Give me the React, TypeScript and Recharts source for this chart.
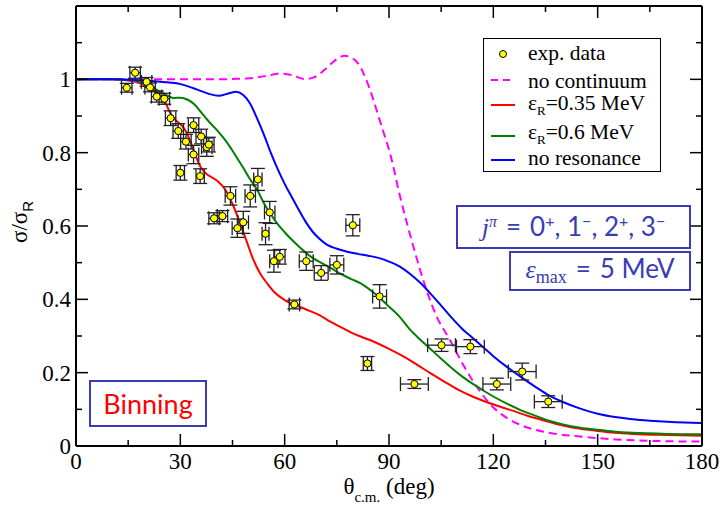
import React from "react";
import { ComposedChart, ErrorBar, Legend, Line, Scatter, XAxis, YAxis } from "recharts";

// axis ticks (minor + major)
const X_TICKS = [0, 15, 30, 45, 60, 75, 90, 105, 120, 135, 150, 165, 180];
const Y_TICKS = [0, 0.1, 0.2, 0.3, 0.4, 0.5, 0.6, 0.7, 0.8, 0.9, 1.0, 1.1];

// experimental points: theta (deg), sigma/sigma_R, errors
const EXP_THETA = [14.6, 17.0, 20.3, 21.3, 23.2, 25.4, 27.2, 29.4, 30.0, 31.6, 33.8, 33.8, 35.7, 36.0, 37.6, 38.2, 39.7, 42.1, 44.4, 46.4, 48.1, 50.1, 52.3, 54.5, 55.7, 56.9, 58.6, 62.8, 66.2, 70.5, 75.0, 79.6, 83.8, 87.3, 97.3, 105.1, 113.4, 121.0, 128.3, 135.8];
const EXP_RATIO = [0.977, 1.018, 0.993, 0.978, 0.953, 0.947, 0.894, 0.859, 0.745, 0.83, 0.875, 0.795, 0.736, 0.844, 0.815, 0.822, 0.621, 0.627, 0.682, 0.594, 0.61, 0.682, 0.727, 0.579, 0.637, 0.504, 0.516, 0.386, 0.504, 0.472, 0.494, 0.602, 0.225, 0.408, 0.169, 0.275, 0.271, 0.169, 0.203, 0.121];
const EXP_DTHETA = [1.5, 1.5, 1.5, 1.5, 1.5, 1.5, 1.5, 1.5, 1.2, 1.5, 1.5, 1.5, 1.2, 1.5, 1.5, 1.5, 1.5, 1.5, 1.5, 1.5, 1.5, 1.5, 1.2, 1.0, 1.5, 1.2, 1.5, 1.5, 2, 2, 2, 2, 1.2, 2, 4, 4, 4, 4, 4, 4];
const EXP_DRATIO = [0.012, 0.015, 0.012, 0.012, 0.015, 0.015, 0.02, 0.02, 0.02, 0.02, 0.02, 0.025, 0.02, 0.02, 0.025, 0.02, 0.015, 0.015, 0.025, 0.025, 0.03, 0.03, 0.03, 0.03, 0.03, 0.03, 0.02, 0.012, 0.025, 0.02, 0.025, 0.029, 0.019, 0.032, 0.012, 0.017, 0.019, 0.016, 0.023, 0.016];

// no continuum
const NOCONT_X = [0, 20, 30, 40, 45, 50, 55, 58.7, 62, 65.8, 68, 70.2, 72, 74, 77.3, 79, 80.7, 82, 83.1, 84.3, 85.5, 87.9, 90.3, 93.2, 97, 100.8, 103.7, 107.5, 111.4, 116.5, 120, 122, 126.7, 131, 136, 146, 155, 165, 180];
const NOCONT_Y = [1.0, 1.0, 1.0, 1.0, 1.001, 1.003, 1.01, 1.016, 1.012, 1.001, 1.004, 1.016, 1.03, 1.048, 1.064, 1.06, 1.048, 1.03, 1.007, 0.978, 0.944, 0.871, 0.798, 0.68, 0.544, 0.425, 0.353, 0.29, 0.22, 0.145, 0.105, 0.089, 0.062, 0.047, 0.036, 0.025, 0.018, 0.014, 0.012];

// eps_R = 0.35 MeV
const R035_X = [0, 10, 14, 17, 20, 22, 24, 25.5, 27, 28.5, 30, 31.5, 33, 34.5, 36, 37.5, 39, 41, 43, 45, 47, 49, 51, 53, 55, 57, 60, 63, 66, 70, 73, 76, 79, 82, 86, 90, 94, 98, 102, 106, 110, 114, 118, 122, 126, 130, 136, 140, 145, 150, 155, 160, 170, 180];
const R035_Y = [1.0, 1.0, 0.998, 0.993, 0.983, 0.972, 0.958, 0.94, 0.91, 0.89, 0.878, 0.86, 0.828, 0.79, 0.758, 0.742, 0.733, 0.72, 0.698, 0.66, 0.612, 0.56, 0.508, 0.47, 0.443, 0.42, 0.398, 0.385, 0.373, 0.357, 0.34, 0.325, 0.31, 0.298, 0.283, 0.265, 0.245, 0.222, 0.198, 0.175, 0.153, 0.135, 0.12, 0.107, 0.095, 0.082, 0.066, 0.056, 0.047, 0.041, 0.036, 0.033, 0.03, 0.028];

// eps_R = 0.6 MeV
const R06_X = [0, 10, 15, 18, 21, 24, 26, 28, 30, 32, 34, 36, 38, 40, 42, 44, 46, 48, 50, 52, 54, 56, 58, 60, 62, 64, 67, 70, 73, 76, 79, 82, 84, 86, 88, 90, 93, 96, 99, 102, 105, 108, 111, 114, 117, 120, 124, 128, 132, 136, 140, 145, 150, 155, 160, 170, 180];
const R06_Y = [1.0, 1.0, 0.999, 0.995, 0.983, 0.967, 0.957, 0.949, 0.95, 0.945, 0.932, 0.91, 0.887, 0.867, 0.845, 0.82, 0.79, 0.76, 0.728, 0.7, 0.663, 0.632, 0.605, 0.583, 0.563, 0.545, 0.52, 0.502, 0.487, 0.47, 0.456, 0.443, 0.43, 0.415, 0.398, 0.38, 0.353, 0.318, 0.29, 0.264, 0.238, 0.213, 0.19, 0.17, 0.152, 0.135, 0.115, 0.097, 0.083, 0.069, 0.059, 0.05, 0.044, 0.039, 0.036, 0.033, 0.032];

// no resonance
const NORES_X = [0, 10, 15, 20, 25, 30, 34, 38, 41, 44, 46, 48, 50, 52, 54, 56, 58, 60, 62, 64, 66, 68, 70, 72, 75, 78, 81, 84, 87, 90, 93, 96, 99, 102, 105, 108, 111, 114, 117, 120, 124, 128, 132, 136, 140, 145, 150, 155, 160, 165, 170, 175, 180];
const NORES_Y = [1.0, 1.0, 0.999, 0.997, 0.993, 0.987, 0.975, 0.961, 0.955, 0.962, 0.966, 0.958, 0.935, 0.895, 0.85, 0.8, 0.755, 0.715, 0.68, 0.645, 0.612, 0.585, 0.565, 0.55, 0.538, 0.53, 0.524, 0.519, 0.513, 0.503, 0.49, 0.47, 0.445, 0.415, 0.383, 0.35, 0.32, 0.295, 0.27, 0.245, 0.215, 0.188, 0.162, 0.138, 0.12, 0.102, 0.088, 0.079, 0.073, 0.069, 0.066, 0.064, 0.063];

const zip = (xs: number[], ys: number[]) => xs.map((x, i) => ({ x, y: ys[i] }));

const expData = EXP_THETA.map((x, i) => ({ x, y: EXP_RATIO[i], ex: EXP_DTHETA[i], ey: EXP_DRATIO[i] }));

const SERIF = '"Liberation Serif", "DejaVu Serif", serif';
const SANS = 'Lato, "DejaVu Sans", sans-serif';
const BOX_BLUE = "#3b3bb3";
const MAJOR = 12;
const MINOR = 6;

const isMajorX = (v: number) => v % 30 === 0;
const isMajorY = (v: number) => Math.round(v * 10) % 2 === 0;
const fmtY = (v: number) => (v === 0 ? "0" : v === 1 ? "1" : v.toFixed(1));

const tickText = { fontFamily: SERIF, fontSize: 23 };

// ticks point into the plot, like xmgrace does
function BottomTick({ x, y, payload }: any) {
  const major = isMajorX(payload.value);
  return (
    <g>
      <line x1={x} y1={y} x2={x} y2={y - (major ? MAJOR : MINOR)} stroke="#000" strokeWidth={1.5} />
      {major && (
        <text x={x} y={y + 23} textAnchor="middle" style={tickText} fill="#000">
          {payload.value}
        </text>
      )}
    </g>
  );
}

function TopTick({ x, y, payload }: any) {
  const major = isMajorX(payload.value);
  return <line x1={x} y1={y} x2={x} y2={y + (major ? MAJOR : MINOR)} stroke="#000" strokeWidth={1.5} />;
}

function LeftTick({ x, y, payload }: any) {
  const major = isMajorY(payload.value);
  return (
    <g>
      <line x1={x} y1={y} x2={x + (major ? MAJOR : MINOR)} y2={y} stroke="#000" strokeWidth={1.5} />
      {major && (
        <text x={x - 5} y={y + 8} textAnchor="end" style={tickText} fill="#000">
          {fmtY(payload.value)}
        </text>
      )}
    </g>
  );
}

function RightTick({ x, y, payload }: any) {
  const major = isMajorY(payload.value);
  return <line x1={x} y1={y} x2={x - (major ? MAJOR : MINOR)} y2={y} stroke="#000" strokeWidth={1.5} />;
}

function XTitle({ viewBox }: any) {
  const cx = viewBox.x + viewBox.width / 2;
  return (
    <text x={cx} y={viewBox.y + 48} textAnchor="middle" style={tickText} fill="#000">
      θ
      <tspan dy={8} fontSize={15}>c.m.</tspan>
      <tspan dy={-8}> (deg)</tspan>
    </text>
  );
}

function YTitle() {
  return (
    <text transform="translate(27,222) rotate(-90)" textAnchor="middle" style={tickText} fill="#000">
      σ/σ
      <tspan dy={6} fontSize={15} style={{ fontFamily: '"Liberation Sans", sans-serif' }}>R</tspan>
    </text>
  );
}

const LEGEND_ROWS = [
  { key: "exp", kind: "dot", color: "#ffff00", text: "exp. data", sub: "", rest: "", base: 22, mark: 16 },
  { key: "nc", kind: "dash", color: "#ff00ff", text: "no continuum", sub: "", rest: "", base: 50, mark: 42 },
  { key: "r35", kind: "line", color: "#ff0000", text: "ε", sub: "R", rest: "=0.35 MeV", base: 72, mark: 67 },
  { key: "r6", kind: "line", color: "#008000", text: "ε", sub: "R", rest: "=0.6 MeV", base: 101, mark: 98 },
  { key: "nr", kind: "line", color: "#0000ff", text: "no resonance", sub: "", rest: "", base: 127, mark: 122 },
];

function LegendBox() {
  return (
    <svg width={178} height={134} style={{ display: "block" }}>
      <rect x={0.5} y={0.5} width={177} height={133} fill="#fff" stroke="#000" strokeWidth={1} />
      {LEGEND_ROWS.map((r) => (
        <g key={r.key}>
          {r.kind === "dot" ? (
            <circle cx={20} cy={r.mark} r={3.5} fill={r.color} stroke="#000" strokeWidth={1} />
          ) : (
            <line
              x1={8}
              x2={32}
              y1={r.mark}
              y2={r.mark}
              stroke={r.color}
              strokeWidth={2}
              strokeDasharray={r.kind === "dash" ? "7 5" : undefined}
            />
          )}
          <text x={45} y={r.base} style={{ fontFamily: SERIF, fontSize: 21.5 }} fill="#000">
            {r.text}
            {r.sub && (
              <tspan dy={5} fontSize={13}>
                {r.sub}
              </tspan>
            )}
            {r.rest && <tspan dy={r.sub ? -5 : 0}>{r.rest}</tspan>}
          </text>
        </g>
      ))}
    </svg>
  );
}

const boxStyle: React.CSSProperties = {
  position: "absolute",
  boxSizing: "border-box",
  border: `2px solid ${BOX_BLUE}`,
  background: "#fff",
  display: "flex",
  alignItems: "center",
  justifyContent: "center",
  whiteSpace: "nowrap",
  lineHeight: 1,
};

const sup: React.CSSProperties = { fontSize: 16, verticalAlign: "0.55em" };

export default function App() {
  return (
    <div style={{ position: "absolute", left: 0, top: 0, width: 724, height: 505, background: "#fff", fontFamily: SERIF }}>
      <ComposedChart width={724} height={505} margin={{ top: 0, right: 0, bottom: 0, left: 0 }}>
        <XAxis
          xAxisId="b"
          type="number"
          dataKey="x"
          domain={[0, 180]}
          ticks={X_TICKS}
          interval={0}
          height={59}
          tickSize={0}
          tickMargin={0}
          tick={BottomTick}
          axisLine={{ stroke: "#000", strokeWidth: 2 }}
          allowDataOverflow
          label={<XTitle />}
        />
        <XAxis
          xAxisId="t"
          orientation="top"
          type="number"
          dataKey="x"
          domain={[0, 180]}
          ticks={X_TICKS}
          interval={0}
          height={6}
          tickSize={0}
          tickMargin={0}
          tick={TopTick}
          axisLine={{ stroke: "#000", strokeWidth: 2 }}
          allowDataOverflow
        />
        <YAxis
          yAxisId="l"
          type="number"
          domain={[0, 1.2]}
          ticks={Y_TICKS}
          interval={0}
          width={76}
          tickSize={0}
          tickMargin={0}
          tick={LeftTick}
          axisLine={{ stroke: "#000", strokeWidth: 2 }}
          allowDataOverflow
          label={<YTitle />}
        />
        <YAxis
          yAxisId="r"
          orientation="right"
          type="number"
          domain={[0, 1.2]}
          ticks={Y_TICKS}
          interval={0}
          width={22}
          tickSize={0}
          tickMargin={0}
          tick={RightTick}
          axisLine={{ stroke: "#000", strokeWidth: 2 }}
          allowDataOverflow
        />
        <Legend
          layout="vertical"
          align="center"
          verticalAlign="middle"
          content={<LegendBox />}
          wrapperStyle={{ left: 483, top: 38, width: 178, height: 134 }}
        />
        <Line
          xAxisId="b"
          yAxisId="l"
          data={zip(NOCONT_X, NOCONT_Y)}
          dataKey="y"
          name="no continuum"
          type="monotone"
          stroke="#ff00ff"
          strokeWidth={2}
          strokeDasharray="8 5"
          dot={false}
          isAnimationActive={false}
        />
        <Line
          xAxisId="b"
          yAxisId="l"
          data={zip(R035_X, R035_Y)}
          dataKey="y"
          name="eps 0.35"
          type="monotone"
          stroke="#ff0000"
          strokeWidth={2}
          dot={false}
          isAnimationActive={false}
        />
        <Line
          xAxisId="b"
          yAxisId="l"
          data={zip(R06_X, R06_Y)}
          dataKey="y"
          name="eps 0.6"
          type="monotone"
          stroke="#008000"
          strokeWidth={2}
          dot={false}
          isAnimationActive={false}
        />
        <Line
          xAxisId="b"
          yAxisId="l"
          data={zip(NORES_X, NORES_Y)}
          dataKey="y"
          name="no resonance"
          type="monotone"
          stroke="#0000ff"
          strokeWidth={2}
          dot={false}
          isAnimationActive={false}
        />
        <Scatter
          xAxisId="b"
          yAxisId="l"
          data={expData}
          dataKey="y"
          name="exp. data"
          isAnimationActive={false}
          shape={(p: any) => <circle cx={p.cx} cy={p.cy} r={3.6} fill="#ffff00" stroke="#000" strokeWidth={1} />}
        >
          <ErrorBar dataKey="ex" direction="x" width={7} stroke="#222" strokeWidth={1.3} isAnimationActive={false} />
          <ErrorBar dataKey="ey" direction="y" width={7} stroke="#222" strokeWidth={1.3} isAnimationActive={false} />
        </Scatter>
      </ComposedChart>

      <div style={{ ...boxStyle, left: 456, top: 205, width: 235, height: 44, color: BOX_BLUE, fontFamily: SANS, fontSize: 26 }}>
        <span>
          <span style={{ fontFamily: SERIF, fontStyle: "italic" }}>j</span>
          <span style={{ ...sup, fontFamily: SERIF, fontStyle: "italic" }}>π</span>
          <span style={{ margin: "0 9px" }}>=</span>0<span style={sup}>+</span>, 1<span style={sup}>−</span>, 2
          <span style={sup}>+</span>, 3<span style={sup}>−</span>
        </span>
      </div>
      <div style={{ ...boxStyle, left: 509, top: 251, width: 182, height: 40, color: BOX_BLUE, fontFamily: SANS, fontSize: 26 }}>
        <span>
          <span style={{ fontFamily: SERIF, fontStyle: "italic" }}>ε</span>
          <span style={{ fontFamily: SERIF, fontSize: 18, verticalAlign: "-0.3em" }}>max</span>
          <span style={{ margin: "0 9px" }}>=</span>5 MeV
        </span>
      </div>
      <div style={{ ...boxStyle, left: 89, top: 380, width: 118, height: 47, color: "#ff0000", fontFamily: SANS, fontSize: 27 }}>
        Binning
      </div>
    </div>
  );
}
